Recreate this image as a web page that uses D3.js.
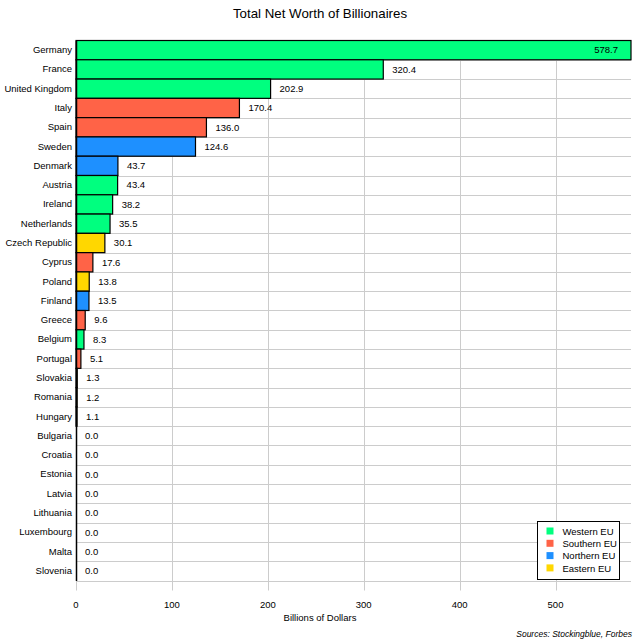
<!DOCTYPE html>
<html>
<head>
<meta charset="utf-8">
<script src="https://cdn.jsdelivr.net/npm/d3@7"></script>
<style>
  body { margin: 0; background: #fff; }
  text { font-family: "Liberation Sans", Arial, sans-serif; }
</style>
</head>
<body>
<div id="chart"></div>
<script>
// data
const countries = ['Germany', 'France', 'United Kingdom', 'Italy', 'Spain', 'Sweden', 'Denmark', 'Austria',
    'Ireland', 'Netherlands', 'Czech Republic', 'Cyprus', 'Poland', 'Finland', 'Greece', 'Belgium',
    'Portugal', 'Slovakia', 'Romania', 'Hungary', 'Bulgaria', 'Croatia', 'Estonia', 'Latvia',
    'Lithuania', 'Luxembourg', 'Malta', 'Slovenia'];
const worth = [578.7, 320.4, 202.9, 170.4, 136.0, 124.6, 43.7, 43.4, 38.2, 35.5, 30.1, 17.6, 13.8, 13.5,
    9.6, 8.3, 5.1, 1.3, 1.2, 1.1, 0, 0, 0, 0, 0, 0, 0, 0];
const regions = ['Western', 'Western', 'Western', 'Southern', 'Southern', 'Northern', 'Northern', 'Western',
    'Western', 'Western', 'Eastern', 'Southern', 'Eastern', 'Northern', 'Southern', 'Western',
    'Southern', 'Eastern', 'Eastern', 'Eastern', 'Eastern', 'Southern', 'Northern', 'Northern',
    'Northern', 'Western', 'Southern', 'Southern'];
const regionNames = ['Western', 'Southern', 'Northern', 'Eastern'];
const xTicks = [0, 100, 200, 300, 400, 500];

var svgwidth = 640, svgheight = 640;
var plotLeft = 76, plotRight = 631, plotTop = 40.5, plotBottom = 580.5;
var fs = '9.5px';

var rows = countries.map((c, i) => ({ country: c, value: worth[i], region: regions[i] }));

var color = d3.scaleOrdinal()
    .domain(regionNames)
    .range(['#00ff7f', '#ff6347', '#1e90ff', '#ffd700']);

var svg = d3.select('#chart').append('svg')
    .attr('width', svgwidth)
    .attr('height', svgheight);

var x = d3.scaleLinear().domain([0, d3.max(worth)]).range([plotLeft, plotRight]);
var y = d3.scaleBand().domain(countries).range([plotTop, plotBottom]).padding(0);

// grid
svg.append('g')
    .selectAll('line')
    .data(xTicks)
    .join('line')
    .attr('x1', d => Math.round(x(d)) + 0.5)
    .attr('x2', d => Math.round(x(d)) + 0.5)
    .attr('y1', plotTop)
    .attr('y2', plotBottom + 10)
    .attr('stroke', '#cccccc');

svg.append('g')
    .selectAll('line')
    .data(countries)
    .join('line')
    .attr('x1', plotLeft)
    .attr('x2', plotRight)
    .attr('y1', d => Math.round(y(d) + y.bandwidth()) + 0.5)
    .attr('y2', d => Math.round(y(d) + y.bandwidth()) + 0.5)
    .attr('stroke', '#cccccc');

// bars
svg.append('g')
    .selectAll('rect')
    .data(rows.filter(d => d.value > 0))
    .join('rect')
    .attr('x', x(0))
    .attr('y', d => y(d.country))
    .attr('width', d => x(d.value) - x(0))
    .attr('height', y.bandwidth())
    .attr('fill', d => color(d.region))
    .attr('stroke', '#000')
    .attr('stroke-width', 1.2);

// value labels
svg.append('g')
    .selectAll('text')
    .data(rows)
    .join('text')
    .attr('x', d => d.value > 500 ? x(d.value) - 13 : x(d.value) + 9)
    .attr('y', d => y(d.country) + y.bandwidth() / 2)
    .attr('dy', '0.35em')
    .attr('text-anchor', d => d.value > 500 ? 'end' : 'start')
    .style('font-size', fs)
    .text(d => d.value.toFixed(1));

// left axis
var yaxis = svg.append('g')
    .attr('transform', `translate(${plotLeft}, 0)`)
    .call(d3.axisLeft(y).tickSize(0).tickPadding(4));
yaxis.select('.domain').attr('stroke', '#000').attr('stroke-width', 1.5);
yaxis.selectAll('text').style('font-size', fs).style('font-family', '"Liberation Sans", Arial, sans-serif');

// bottom tick labels
svg.append('g')
    .selectAll('text')
    .data(xTicks)
    .join('text')
    .attr('x', d => x(d))
    .attr('y', 608)
    .attr('text-anchor', 'middle')
    .style('font-size', fs)
    .text(d => d);

// titles
svg.append('text')
    .attr('x', 320)
    .attr('y', 18)
    .attr('text-anchor', 'middle')
    .style('font-size', '13.3px')
    .text('Total Net Worth of Billionaires');

svg.append('text')
    .attr('x', 320)
    .attr('y', 621)
    .attr('text-anchor', 'middle')
    .style('font-size', fs)
    .text('Billions of Dollars');

svg.append('text')
    .attr('x', 632)
    .attr('y', 637)
    .attr('text-anchor', 'end')
    .style('font-size', '8.5px')
    .style('font-style', 'italic')
    .text('Sources: Stockingblue, Forbes');

// legend
var legend = svg.append('g').attr('transform', 'translate(537.5, 521.5)');
legend.append('rect')
    .attr('width', 82)
    .attr('height', 58)
    .attr('fill', '#fff')
    .attr('stroke', '#000');
var items = legend.selectAll('g.item')
    .data(regionNames)
    .join('g')
    .attr('class', 'item')
    .attr('transform', (d, i) => `translate(0, ${10 + i * 12.3})`);
items.append('rect')
    .attr('x', 9)
    .attr('y', -4)
    .attr('width', 7)
    .attr('height', 7)
    .attr('fill', d => color(d));
items.append('text')
    .attr('x', 25)
    .attr('y', 0)
    .attr('dy', '0.35em')
    .style('font-size', fs)
    .text(d => d + ' EU');
</script>
</body>
</html>
